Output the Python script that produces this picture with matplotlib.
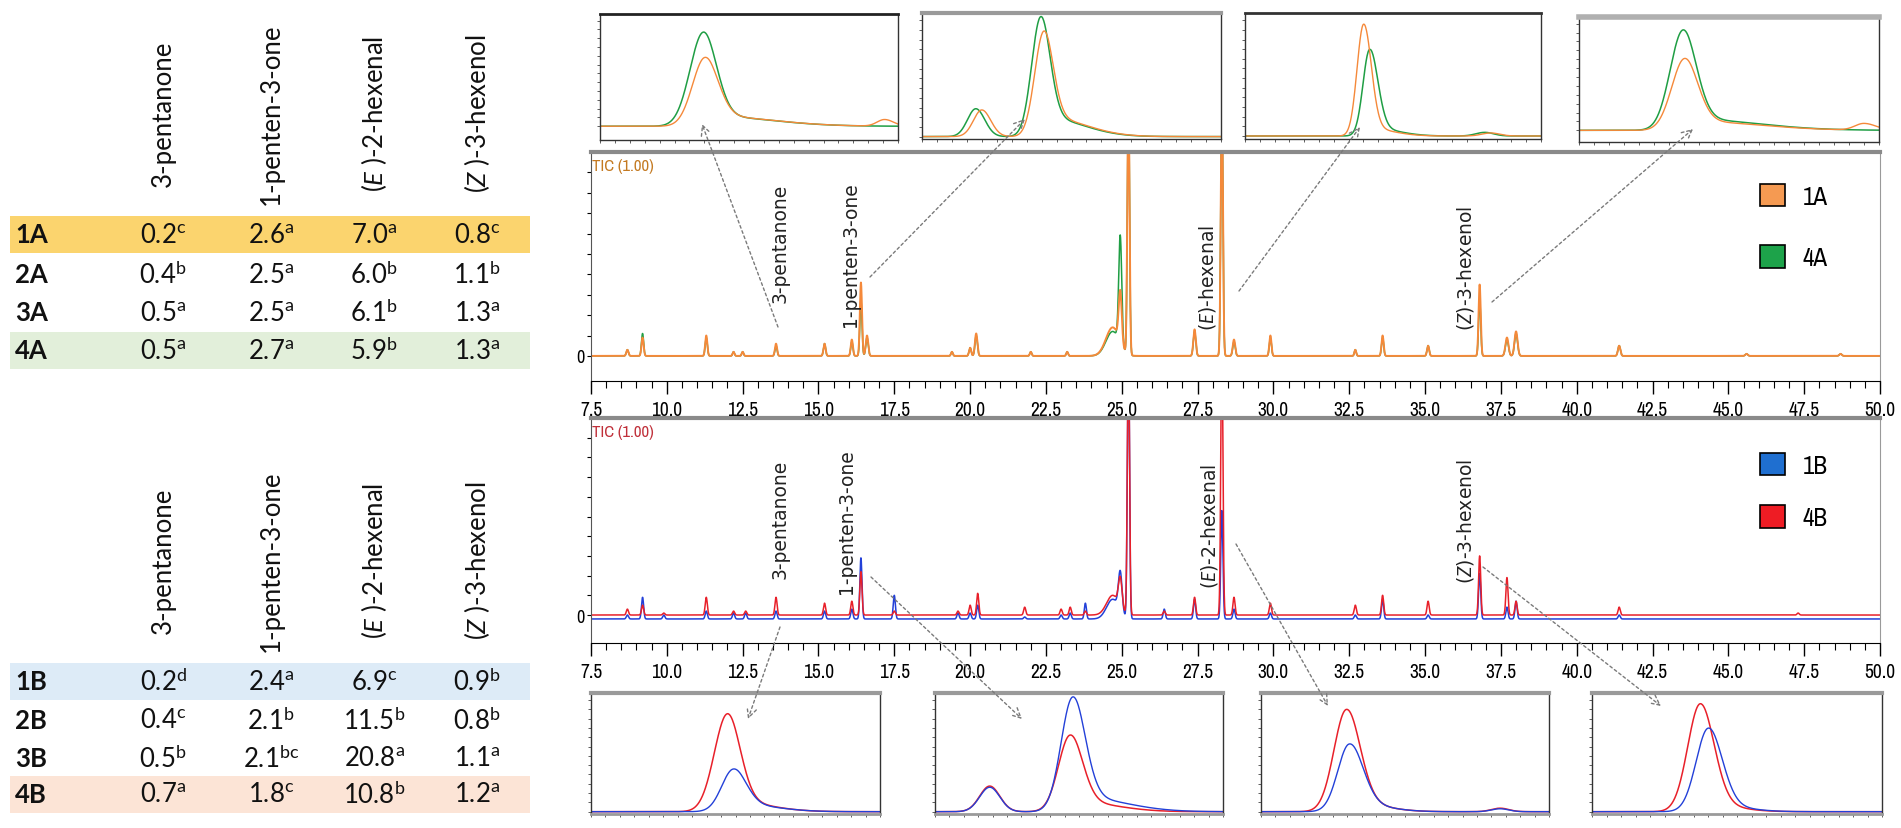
import numpy as np
import matplotlib
matplotlib.use("Agg")
import matplotlib.pyplot as plt
from matplotlib.patches import Patch, Rectangle
from matplotlib.ticker import MultipleLocator
from matplotlib import font_manager

W, H = 1901, 829

# pick a condensed face if one is installed, otherwise plain DejaVu
narrow, stretch = 'DejaVu Sans', 'normal'
for f in font_manager.fontManager.ttflist:
    if 'Narrow' in f.name or 'Condensed' in f.name:
        narrow, stretch = f.name, 'normal'
        break
else:
    for f in font_manager.fontManager.ttflist:
        if f.stretch in ('condensed', 'semi-condensed', 'extra-condensed') and f.style == 'normal':
            narrow, stretch = f.name, f.stretch
            break
nfont = {'family': narrow, 'stretch': stretch}

plt.rcParams['mathtext.fontset'] = 'custom'
plt.rcParams['mathtext.rm'] = 'Lato'
plt.rcParams['mathtext.it'] = 'Lato:italic'
plt.rcParams['mathtext.bf'] = 'Lato:bold'

# ---------------- table data ----------------
compounds = ['3-pentanone', '1-penten-3-one', '($\\mathit{E}$ )-2-hexenal', '($\\mathit{Z}$ )-3-hexenol']
rows_A = ['1A', '2A', '3A', '4A']
vals_A = [['0.2', '2.6', '7.0', '0.8'],
          ['0.4', '2.5', '6.0', '1.1'],
          ['0.5', '2.5', '6.1', '1.3'],
          ['0.5', '2.7', '5.9', '1.3']]
sup_A = [['c', 'a', 'a', 'c'],
         ['b', 'a', 'b', 'b'],
         ['a', 'a', 'b', 'a'],
         ['a', 'a', 'b', 'a']]
rows_B = ['1B', '2B', '3B', '4B']
vals_B = [['0.2', '2.4', '6.9', '0.9'],
          ['0.4', '2.1', '11.5', '0.8'],
          ['0.5', '2.1', '20.8', '1.1'],
          ['0.7', '1.8', '10.8', '1.2']]
sup_B = [['d', 'a', 'c', 'b'],
         ['c', 'b', 'b', 'b'],
         ['b', 'bc', 'a', 'a'],
         ['a', 'c', 'b', 'a']]

# ---------------- chromatogram peak tables (retention time, height, width) ----------------
rt_A = [8.7, 9.2, 11.3, 12.2, 12.5, 13.6, 15.2, 16.1, 16.4, 16.6, 19.4, 20.0, 20.2, 22.0, 23.2,
        24.7, 24.95, 25.22, 27.4, 28.3, 28.7, 29.9, 32.7, 33.6, 35.1, 36.8, 37.7, 38.0, 41.4, 45.6, 48.7]
h_1A = [0.03, 0.09, 0.10, 0.02, 0.02, 0.06, 0.06, 0.08, 0.36, 0.10, 0.02, 0.04, 0.11, 0.02, 0.02,
        0.14, 0.25, 1.30, 0.13, 1.30, 0.08, 0.10, 0.03, 0.10, 0.05, 0.35, 0.09, 0.12, 0.05, 0.01, 0.01]
h_4A = [0.03, 0.11, 0.09, 0.02, 0.02, 0.05, 0.06, 0.07, 0.27, 0.09, 0.02, 0.04, 0.10, 0.02, 0.02,
        0.12, 0.53, 1.30, 0.12, 1.30, 0.07, 0.09, 0.03, 0.09, 0.05, 0.28, 0.08, 0.11, 0.05, 0.01, 0.01]
w_A = [0.035, 0.035, 0.035, 0.03, 0.03, 0.035, 0.035, 0.035, 0.035, 0.04, 0.03, 0.035, 0.04, 0.03, 0.03,
       0.22, 0.05, 0.035, 0.04, 0.035, 0.04, 0.035, 0.03, 0.035, 0.035, 0.035, 0.05, 0.05, 0.04, 0.04, 0.04]

rt_B = [8.7, 9.2, 9.9, 11.3, 12.2, 12.6, 13.6, 15.2, 16.1, 16.4, 17.5, 19.6, 20.0, 20.25, 21.8, 23.0, 23.3,
        23.8, 24.7, 24.95, 25.22, 26.4, 27.4, 28.3, 28.7, 29.9, 32.7, 33.6, 35.1, 36.8, 37.7, 38.0, 41.4, 47.3]
h_4B = [0.03, 0.05, 0.01, 0.09, 0.02, 0.02, 0.09, 0.06, 0.07, 0.22, 0.02, 0.02, 0.05, 0.11, 0.04, 0.03, 0.04,
        0.02, 0.10, 0.15, 1.40, 0.02, 0.09, 1.40, 0.09, 0.06, 0.05, 0.10, 0.07, 0.30, 0.19, 0.07, 0.04, 0.01]
h_1B = [0.02, 0.11, 0.02, 0.04, 0.03, 0.03, 0.04, 0.04, 0.05, 0.31, 0.12, 0.03, 0.03, 0.07, 0.01, 0.02, 0.03,
        0.08, 0.10, 0.20, 1.40, 0.05, 0.10, 0.55, 0.05, 0.03, 0.02, 0.10, 0.02, 0.23, 0.06, 0.09, 0.02, 0.00]
w_B = [0.035] * 18 + [0.2, 0.06] + [0.035] * 14
base_4B, base_1B = 0.0, -0.02

# ---------------- inset peak tables (centre, height, left width, right width) ----------------
insA = [
    {'1A': [(0.35, 0.55, 0.042, 0.045), (0.375, 0.09, 0.04, 0.20), (0.955, 0.06, 0.025, 0.03)],
     '4A': [(0.345, 0.78, 0.045, 0.045), (0.37, 0.09, 0.04, 0.20)]},
    {'1A': [(0.20, 0.22, 0.028, 0.03), (0.405, 0.76, 0.03, 0.032), (0.43, 0.15, 0.03, 0.12)],
     '4A': [(0.18, 0.23, 0.028, 0.03), (0.395, 0.88, 0.03, 0.032), (0.42, 0.15, 0.03, 0.12)]},
    {'1A': [(0.40, 0.89, 0.022, 0.026), (0.42, 0.06, 0.02, 0.08), (0.83, 0.025, 0.03, 0.03)],
     '4A': [(0.42, 0.68, 0.022, 0.028), (0.44, 0.06, 0.02, 0.08), (0.81, 0.03, 0.03, 0.03)]},
    {'1A': [(0.35, 0.58, 0.043, 0.045), (0.375, 0.08, 0.04, 0.22), (0.95, 0.06, 0.03, 0.04)],
     '4A': [(0.345, 0.82, 0.043, 0.045), (0.37, 0.10, 0.04, 0.22)]},
]
insB = [
    {'1B': [(0.49, 0.32, 0.04, 0.045), (0.52, 0.06, 0.04, 0.12)],
     '4B': [(0.47, 0.78, 0.045, 0.045), (0.50, 0.08, 0.04, 0.12)]},
    {'1B': [(0.19, 0.21, 0.035, 0.035), (0.476, 0.90, 0.04, 0.044), (0.51, 0.12, 0.04, 0.15)],
     '4B': [(0.19, 0.22, 0.035, 0.035), (0.467, 0.60, 0.04, 0.044), (0.50, 0.08, 0.04, 0.13)]},
    {'1B': [(0.305, 0.54, 0.04, 0.048), (0.34, 0.06, 0.04, 0.10), (0.83, 0.025, 0.03, 0.03)],
     '4B': [(0.295, 0.83, 0.043, 0.048), (0.33, 0.07, 0.04, 0.10), (0.83, 0.03, 0.03, 0.03)]},
    {'1B': [(0.40, 0.68, 0.042, 0.048), (0.43, 0.05, 0.04, 0.10)],
     '4B': [(0.372, 0.88, 0.043, 0.048), (0.40, 0.06, 0.04, 0.10)]},
]

col = {'1A': '#f5893a', '4A': '#1f9e44', '1B': '#2340d8', '4B': '#e8202a'}
leg_col = {'1A': '#f59a52', '4A': '#1da34a', '1B': '#1f6fd0', '4B': '#ee1c24'}


def trace(x, peaks, base=0.0):
    y = np.full_like(x, base)
    for c, h, sl, sr in peaks:
        s = np.where(x < c, sl, sr)
        y = y + h * np.exp(-0.5 * ((x - c) / s) ** 2)
    return y


def px_rect(x0, y0, x1, y1):
    return [x0 / W, (H - y1) / H, (x1 - x0) / W, (y1 - y0) / H]


fig = plt.figure(figsize=(W / 100, H / 100), dpi=100)

# ---------------- chromatograms ----------------
t = np.arange(7.5, 50.0, 0.004)


def style_chrom(ax, ylo, tic_color):
    ax.set_xlim(7.5, 50.0)
    ax.set_ylim(ylo, 1.0)
    ticks = np.arange(7.5, 50.01, 2.5)
    ax.set_xticks(ticks)
    ax.set_xticklabels([f"{v:.1f}" for v in ticks], fontsize=14, **nfont)
    ax.xaxis.set_minor_locator(MultipleLocator(0.5))
    ax.tick_params(axis='x', which='major', length=9, width=1, direction='out', pad=5)
    ax.tick_params(axis='x', which='minor', length=5, width=0.8, direction='out')
    ax.set_yticks(np.arange(0, 0.95, 0.1))
    ax.set_yticklabels(['0'] + [''] * 9, fontsize=13, **nfont)
    ax.tick_params(axis='y', length=3, width=0.8, pad=2)
    ax.spines['top'].set_color('#8a8a8a')
    ax.spines['top'].set_linewidth(3)
    ax.spines['right'].set_color('#9a9a9a')
    ax.spines['left'].set_color('#555555')
    ax.text(0.001, 0.975, 'TIC (1.00)', transform=ax.transAxes, va='top', ha='left',
            color=tic_color, fontsize=12, **nfont)


axA = fig.add_axes(px_rect(591, 153, 1880, 382))
axA.plot(t, trace(t, list(zip(rt_A, h_4A, w_A, w_A))), color=col['4A'], lw=1.1)
axA.plot(t, trace(t, list(zip(rt_A, h_1A, w_A, w_A))), color=col['1A'], lw=1.4)
style_chrom(axA, -0.123, '#c47a22')
axA.legend(handles=[Patch(facecolor=leg_col[k], edgecolor='black', lw=1.2, label=k) for k in ['1A', '4A']],
           loc='upper left', bbox_to_anchor=(0.907, 0.86), frameon=False, handlelength=1.0,
           handleheight=1.0, labelspacing=1.5, handletextpad=0.7, borderpad=0, borderaxespad=0,
           prop={'family': narrow, 'stretch': stretch, 'size': 18})

axB = fig.add_axes(px_rect(591, 419, 1880, 644))
axB.plot(t, trace(t, list(zip(rt_B, h_1B, w_B, w_B)), base_1B), color=col['1B'], lw=1.1)
axB.plot(t, trace(t, list(zip(rt_B, h_4B, w_B, w_B)), base_4B), color=col['4B'], lw=1.1)
style_chrom(axB, -0.142, '#c0303a')
axB.legend(handles=[Patch(facecolor=leg_col[k], edgecolor='black', lw=1.2, label=k) for k in ['1B', '4B']],
           loc='upper left', bbox_to_anchor=(0.907, 0.845), frameon=False, handlelength=1.0,
           handleheight=1.0, labelspacing=1.15, handletextpad=0.7, borderpad=0, borderaxespad=0,
           prop={'family': narrow, 'stretch': stretch, 'size': 18})

# ---------------- insets ----------------
xi = np.linspace(0, 1, 600)
rects_A = [(600, 15, 898, 141), (922, 14, 1221, 140), (1245, 14, 1541, 140), (1579, 18, 1879, 143)]
ylo_A = [-0.125, -0.02, -0.025, -0.105]
top_A = [('#222222', 2), ('#9a9a9a', 3), ('#333333', 2), ('#b0b0b0', 4)]
rects_B = [(591, 694, 880, 815), (935, 694, 1223, 815), (1261, 694, 1549, 815), (1592, 694, 1882, 815)]


def style_inset(ax, ylo, top_c, top_w):
    ax.set_xlim(0, 1)
    ax.set_ylim(ylo, 1.02)
    ax.set_xticks(np.arange(0, 1.001, 0.05))
    ax.set_yticks(np.arange(0, 1.0, 0.08))
    ax.set_xticklabels([])
    ax.set_yticklabels([])
    ax.tick_params(length=2, width=0.6, colors='#444444')
    for s in ['left', 'right', 'bottom']:
        ax.spines[s].set_color('#333333')
        ax.spines[s].set_linewidth(1)
    ax.spines['top'].set_color(top_c)
    ax.spines['top'].set_linewidth(top_w)


for r, ylo, (tc, tw), pk in zip(rects_A, ylo_A, top_A, insA):
    ax = fig.add_axes(px_rect(*r))
    ax.plot(xi, trace(xi, pk['4A']), color=col['4A'], lw=1.1)
    ax.plot(xi, trace(xi, pk['1A']), color=col['1A'], lw=1.0)
    style_inset(ax, ylo, tc, tw)

for r, pk in zip(rects_B, insB):
    ax = fig.add_axes(px_rect(*r))
    ax.plot(xi, trace(xi, pk['4B']), color=col['4B'], lw=1.1)
    ax.plot(xi, trace(xi, pk['1B']), color=col['1B'], lw=1.0)
    style_inset(ax, -0.02, '#9a9a9a', 3)
    ax.spines['bottom'].set_color('#9a9a9a')
    ax.spines['bottom'].set_linewidth(2)

# ---------------- overlay: tables, labels, arrows ----------------
ov = fig.add_axes([0, 0, 1, 1])
ov.set_xlim(0, W)
ov.set_ylim(H, 0)
ov.axis('off')

col_x = [163, 271, 374, 477]
tfont = dict(family='Lato', fontsize=18.5, color='#111111')


def draw_table(header_y, row_y, rows, vals, sups, bands):
    for (ry, fc) in bands:
        ov.add_patch(Rectangle((10, ry - 18.5), 520, 37, facecolor=fc, edgecolor='none', zorder=0))
    for cx, name in zip(col_x, compounds):
        ov.text(cx, header_y, name, rotation=90, ha='center', va='center', **tfont)
    for ry, lab, vr, sr in zip(row_y, rows, vals, sups):
        ov.text(15, ry, lab, ha='left', va='center', fontweight='bold', **tfont)
        for cx, v, s in zip(col_x, vr, sr):
            ov.text(cx, ry, v + '$^{\\mathrm{' + s + '}}$', ha='center', va='center', **tfont)


rowy_A = [235, 275, 313, 351]
rowy_B = [682, 721, 759, 795]
draw_table(114, rowy_A, rows_A, vals_A, sup_A, [(rowy_A[0], '#fbd46e'), (rowy_A[3], '#e2efda')])
draw_table(561, rowy_B, rows_B, vals_B, sup_B, [(rowy_B[0], '#ddebf7'), (rowy_B[3], '#fce4d6')])

lfont = dict(family='DejaVu Sans', fontsize=13.5, color='#222222', rotation=90, ha='center', va='center')
labels_A = [(780, 243, '3-pentanone'), (851, 255, '1-penten-3-one'),
            (1207, 278, '($\\mathit{E}$)-hexenal'), (1465, 268, '($\\mathit{Z}$)-3-hexenol')]
labels_B = [(780, 519, '3-pentanone'), (846, 522, '1-penten-3-one'),
            (1209, 527, '($\\mathit{E}$)-2-hexenal'), (1465, 521, '($\\mathit{Z}$)-3-hexenol')]
for x, y, s in labels_A + labels_B:
    ov.text(x, y, s, **lfont)

arrows = [((778, 328), (702, 125)), ((870, 278), (1025, 120)), ((1239, 292), (1360, 128)),
          ((1492, 303), (1693, 130)),
          ((780, 628), (748, 720)), ((871, 578), (1022, 720)), ((1236, 545), (1328, 707)),
          ((1483, 568), (1661, 707))]
for st, en in arrows:
    ov.annotate('', xy=en, xytext=st,
                arrowprops=dict(arrowstyle='->,head_length=0.7,head_width=0.35', color='#7a7a7a',
                                lw=1.0, linestyle=(0, (2, 2)), shrinkA=0, shrinkB=0))

fig.savefig('out.png', dpi=100)
